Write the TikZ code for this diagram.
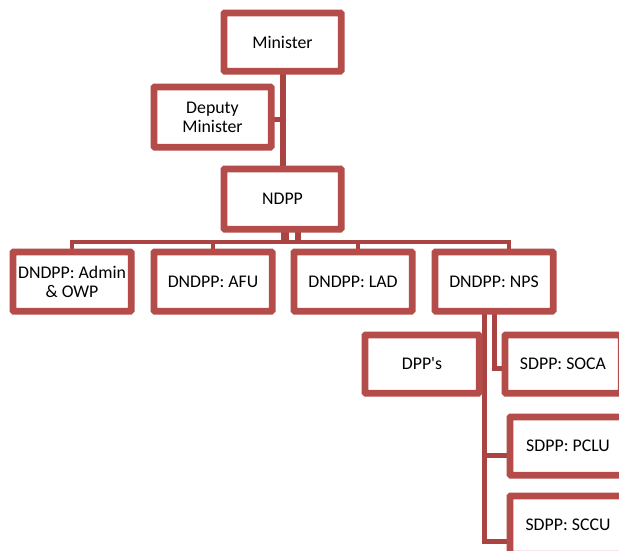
\documentclass[tikz,border=0pt]{standalone}
\usepackage{fontspec}
\setmainfont{Carlito}[Ligatures=TeXOff]
\definecolor{boxred}{RGB}{180,76,74}
\definecolor{linered}{RGB}{170,68,66}
\begin{document}
\begin{tikzpicture}[x=1pt,y=-1pt,
  orgbox/.style={draw=boxred, line width=4.5pt, rounded corners=1.5pt, fill=white,
    minimum width=116pt, minimum height=57pt, inner sep=0pt, align=center,
    font=\fontsize{17.8}{19}\selectfont, text=black},
  conn/.style={draw=linered, line width=5pt, line join=miter, line cap=rect}]
\path[use as bounding box, clip] (0,0) rectangle (619,550);
\fill[white] (0,0) rectangle (619,550);
% nodes
\node[orgbox, minimum width=115pt, minimum height=56pt] (min) at (282.5,42) {Minister};
\node[orgbox, minimum width=115pt, minimum height=58pt] (dep) at (212.5,117) {Deputy\\Minister};
\node[orgbox, minimum width=115pt, minimum height=58pt] (ndpp) at (282.5,199) {NDPP};
\node[orgbox] (adm) at (72,281.5) {DNDPP: Admin\\\& OWP};
\node[orgbox] (afu) at (213,281.5) {DNDPP: AFU};
\node[orgbox] (lad) at (353,281.5) {DNDPP: LAD};
\node[orgbox] (nps) at (494,281.5) {DNDPP: NPS};
\node[orgbox, minimum width=112pt, minimum height=56pt] (dpp) at (422,364) {DPP's};
\node[orgbox, minimum width=114pt, minimum height=56pt] (soca) at (563,364) {SDPP: SOCA};
\node[orgbox, minimum width=114pt, minimum height=56pt] (pclu) at (568,446) {SDPP: PCLU};
\node[orgbox, minimum width=114pt, minimum height=56pt] (sccu) at (568,525) {SDPP: SCCU};
% top trunk
\draw[conn, line width=6pt, line cap=butt] ([xshift=0.5pt]min.south) -- ([xshift=0.5pt]ndpp.north);
\draw[conn, line cap=butt] ([yshift=-2.5pt]dep.east) -- ([yshift=-2.5pt]dep.east -| min.south);
% bus under NDPP
\coordinate (busL) at (72,242);
\coordinate (busR) at (509,242);
\draw[conn, line width=4.5pt] (adm.north) -- (busL) -- (busR) -- ([xshift=15pt]nps.north);
\draw[conn, line width=4.5pt, line cap=butt] (afu.north) -- (afu.north |- busL);
\draw[conn, line width=4.5pt, line cap=butt] ([xshift=5pt]lad.north) -- ([xshift=5pt]lad.north |- busL);
\draw[conn, line width=8pt, line cap=butt] ([xshift=2.5pt]ndpp.south) -- ([xshift=2.5pt]ndpp.south |- busL);
\draw[conn, line width=6pt, line cap=butt] ([xshift=15pt]ndpp.south) -- ([xshift=15pt]ndpp.south |- busL);
% NPS subtree
\draw[conn, line width=5.3pt, line cap=butt] ([xshift=-9.3pt]nps.south) -- ([xshift=-9.3pt,yshift=-16.5pt]sccu.west -| nps.south) -- ([yshift=-16.5pt]sccu.west);
\draw[conn, line width=4.7pt, line cap=butt] ([xshift=0.3pt]nps.south) -- ([xshift=0.3pt,yshift=-4.3pt]soca.west -| nps.south) -- ([yshift=-4.3pt]soca.west);
\draw[conn, line width=4.7pt, line cap=butt] ([xshift=-9.3pt,yshift=-9.5pt]pclu.west -| nps.south) -- ([yshift=-9.5pt]pclu.west);
% redraw box borders on top of connectors
\foreach \n in {min,dep,ndpp,adm,afu,lad,nps,dpp,soca,pclu,sccu}{
  \draw[boxred, line width=4.5pt, rounded corners=1.5pt] (\n.north west) rectangle (\n.south east);
}
\end{tikzpicture}
\end{document}
